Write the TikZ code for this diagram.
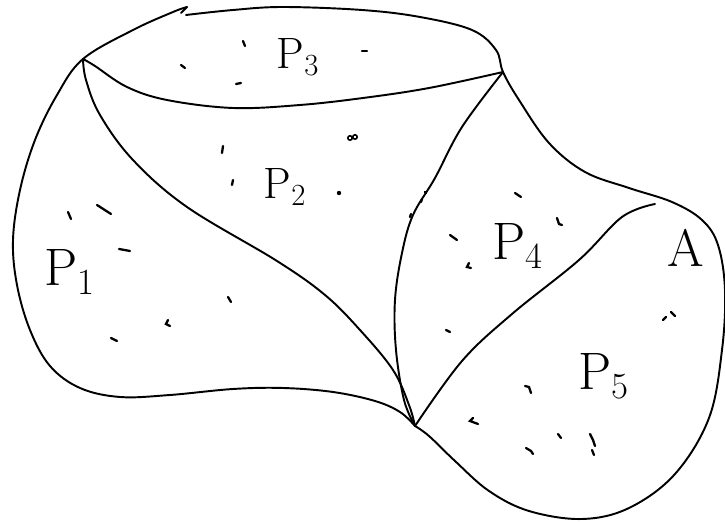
\documentclass[tikz,border=0pt]{standalone}
\usetikzlibrary{calc}
\begin{document}
\begin{tikzpicture}[x=0.02cm,y=-0.02cm,
  edge/.style={line width=1.1pt,line cap=round,line join=round},
  speck/.style={line width=1.3pt,line cap=round},
  lblbig/.style={inner sep=0pt,font=\fontsize{30}{34}\selectfont},
  lblsmall/.style={inner sep=0pt,font=\fontsize{25}{29}\selectfont}]
\useasboundingbox (0,0) rectangle (725,523);
% vertices
\coordinate (v1) at (83,59);
\coordinate (v2) at (503,72);
\coordinate (v3) at (415,426);
\coordinate (v4) at (655,204);
\coordinate (h1) at (187,7);
\coordinate (h2) at (186,15);
% outer boundary, right part
\draw[edge] plot[smooth,tension=0.6] coordinates {(h2) (233,10) (283,7) (362,10) (420,17) (472,30) (496,50) (v2) (519,100) (549,143) (585,172) (629,188) (672,202) (702,220) (718,245) (725,290) (722,350) (709,418) (675,474) (629,508) (582,519) (529,511) (489,491) (455,461) (429,436) (v3)};
% outer boundary, left part
\draw[edge] plot[smooth,tension=0.6] coordinates {(v3) (400,412) (375,401) (333,392) (283,388) (233,389) (170,395) (120,397) (80,388) (50,366) (30,330) (17,285) (13,240) (20,190) (35,140) (57,95) (v1) (133,30) (173,12) (h1)};
\draw[edge] (h1) -- (181,13);
% interior boundaries
\draw[edge] plot[smooth,tension=0.6] coordinates {(v1) (95,66) (127,87) (167,100) (233,108) (300,105) (363,98) (429,88) (v2)};
\draw[edge] plot[smooth,tension=0.6] coordinates {(v1) (86,80) (100,115) (133,160) (187,207) (277,261) (325,295) (360,330) (393,370) (409,405) (v3)};
\draw[edge] plot[smooth,tension=0.6] coordinates {(v2) (462,127) (435,178) (413,215) (402,253) (395,300) (396,350) (404,400) (v3)};
\draw[edge] plot[smooth,tension=0.6] coordinates {(v4) (622,217) (579,260) (512,314) (462,361) (v3)};
% labels
\node[lblsmall] (p3) at (298,57) {P\textsubscript{3}};
\node[lblsmall] (p2) at (285,187) {P\textsubscript{2}};
\node[lblbig] (p1) at (70,272) {P\textsubscript{1}};
\node[lblbig] (p4) at (518,246) {P\textsubscript{4}};
\node[lblbig] (p5) at (604,376) {P\textsubscript{5}};
\node[lblbig] (a) at (686,248) {A};
% specks P3
\draw[speck] (243,41) -- (245,46);
\draw[speck] (181,65) -- (185,68);
\draw[speck] (236,84) -- (241,83);
\draw[speck] (362,51) -- (367,51);
% specks P2
\draw[speck] (223,146) -- (222,153);
\draw[speck] (233,180) -- (232,185);
\draw[line width=0.9pt] (350,138) circle (2.2) (355,137) circle (2.2);
\fill (339,193) circle (2.2);
% specks P1
\draw[speck] (68,212) -- (71,219);
\draw[speck] (97,205) -- (111,214);
\draw[speck] (119,249) -- (130,251);
\draw[speck] (111,338) -- (117,341);
\draw[speck] (168,320) -- (166,324) -- (170,326);
\draw[speck] (228,297) -- (231,302);
% specks P4
\draw[speck] (515,193) -- (521,197);
\draw[speck] (557,218) -- (559,224) -- (562,225);
\draw[speck] (450,235) -- (457,240);
\draw[speck] (469,263) -- (467,267) -- (471,268);
\draw[speck] (446,330) -- (450,332);
\draw[speck] (425,192) -- (426,193) (422,199) -- (421,202) (411,214) -- (410,217);
% specks P5
\draw[speck] (525,386) -- (529,387) -- (531,393);
\draw[speck] (473,418) -- (470,421) -- (478,424);
\draw[speck] (526,448) -- (531,451) -- (533,454);
\draw[speck] (558,434) -- (561,438);
\draw[speck] (590,434) -- (593,440) -- (595,446) (592,450) -- (594,455);
\draw[speck] (663,320) -- (666,317) (671,312) -- (675,316);
\end{tikzpicture}
\end{document}
